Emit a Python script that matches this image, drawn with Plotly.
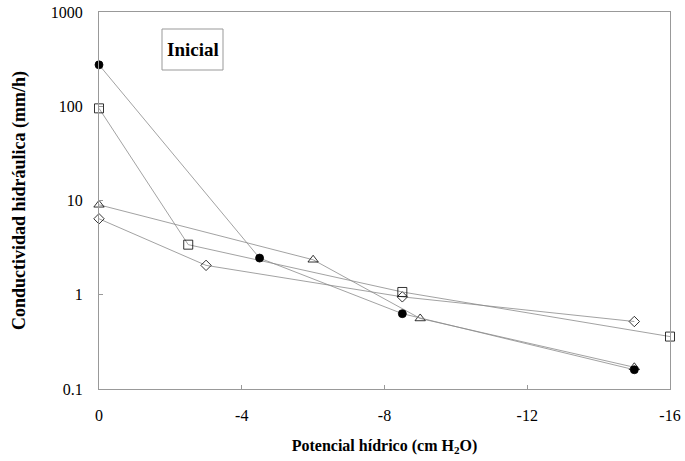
import plotly.graph_objects as go

x_circle = [0, -4.5, -8.5, -15]
y_circle = [275, 2.45, 0.63, 0.16]
x_square = [0, -2.5, -8.5, -16]
y_square = [95, 3.4, 1.07, 0.36]
x_triangle = [0, -6, -9, -15]
y_triangle = [9.0, 2.35, 0.56, 0.17]
x_diamond = [0, -3, -8.5, -15]
y_diamond = [6.4, 2.05, 0.95, 0.52]

xticks = [0, -4, -8, -12, -16]
yticks = [0.1, 1, 10, 100, 1000]
ytick_text = ["0.1", "1", "10", "100", "1000"]

line_col = "#8a8a8a"
fig = go.Figure()

def add(xs, ys, symbol, size, lw=0.8):
    fig.add_trace(go.Scatter(
        x=xs, y=ys, mode="lines+markers", cliponaxis=False,
        line=dict(color=line_col, width=lw),
        marker=dict(symbol=symbol, size=size, color="black",
                    line=dict(color="black", width=0.8)),
        showlegend=False))

add(x_triangle, y_triangle, "triangle-up-open", 9)
add(x_diamond, y_diamond, "diamond-open", 8)
add(x_square, y_square, "square-open", 9)
add(x_circle, y_circle, "circle", 8)

font = "Liberation Serif, Times New Roman, serif"
L, R, T, B = 99, 670, 12, 389
FW, FH = 685, 461
W, H = R - L, B - T

def px(x):
    return (x - L) / W

def py(y):
    return 1 - (y - T) / H

fig.update_layout(
    width=FW, height=FH,
    margin=dict(l=L, r=FW - R, t=T, b=FH - B, autoexpand=False),
    paper_bgcolor="white", plot_bgcolor="white",
    font=dict(family=font, color="black", size=16),
    xaxis=dict(range=[0, -16], tickvals=xticks, ticktext=[str(v) for v in xticks],
               showgrid=False, zeroline=False, showline=True, linecolor="#999999",
               linewidth=1, mirror=True, ticks="inside", ticklen=4, tickcolor="#999999",
               tickfont=dict(size=16), ticklabelstandoff=12, automargin=False,
               ticklabeloverflow="allow",
               title=dict(text="<b>Potencial hídrico (cm H<sub>2</sub>O)</b>",
                          font=dict(size=16), standoff=16)),
    yaxis=dict(type="log", range=[-1, 3], tickvals=yticks, ticktext=ytick_text,
               showgrid=False, zeroline=False, showline=True, linecolor="#999999",
               linewidth=1, mirror=True, ticks="inside", ticklen=4, tickcolor="#999999",
               tickfont=dict(size=16), ticklabelstandoff=12, automargin=False,
               ticklabeloverflow="allow",
               title=dict(text="<b>Conductividad hidráulica (mm/h)</b>",
                          font=dict(size=18), standoff=20)),
    shapes=[dict(type="rect", xref="paper", yref="paper",
                 x0=px(162), x1=px(223), y0=py(70), y1=py(29),
                 line=dict(color="#999999", width=1), fillcolor="white", layer="above")],
    annotations=[dict(text="<b>Inicial</b>", xref="paper", yref="paper",
                      x=px(192.5), y=py(49.5), showarrow=False,
                      xanchor="center", yanchor="middle",
                      font=dict(size=19, family=font, color="black"))],
)

fig.write_html("out.html", config={"displayModeBar": False},
               post_script="document.body.style.margin='0';document.body.style.overflow='hidden';")
